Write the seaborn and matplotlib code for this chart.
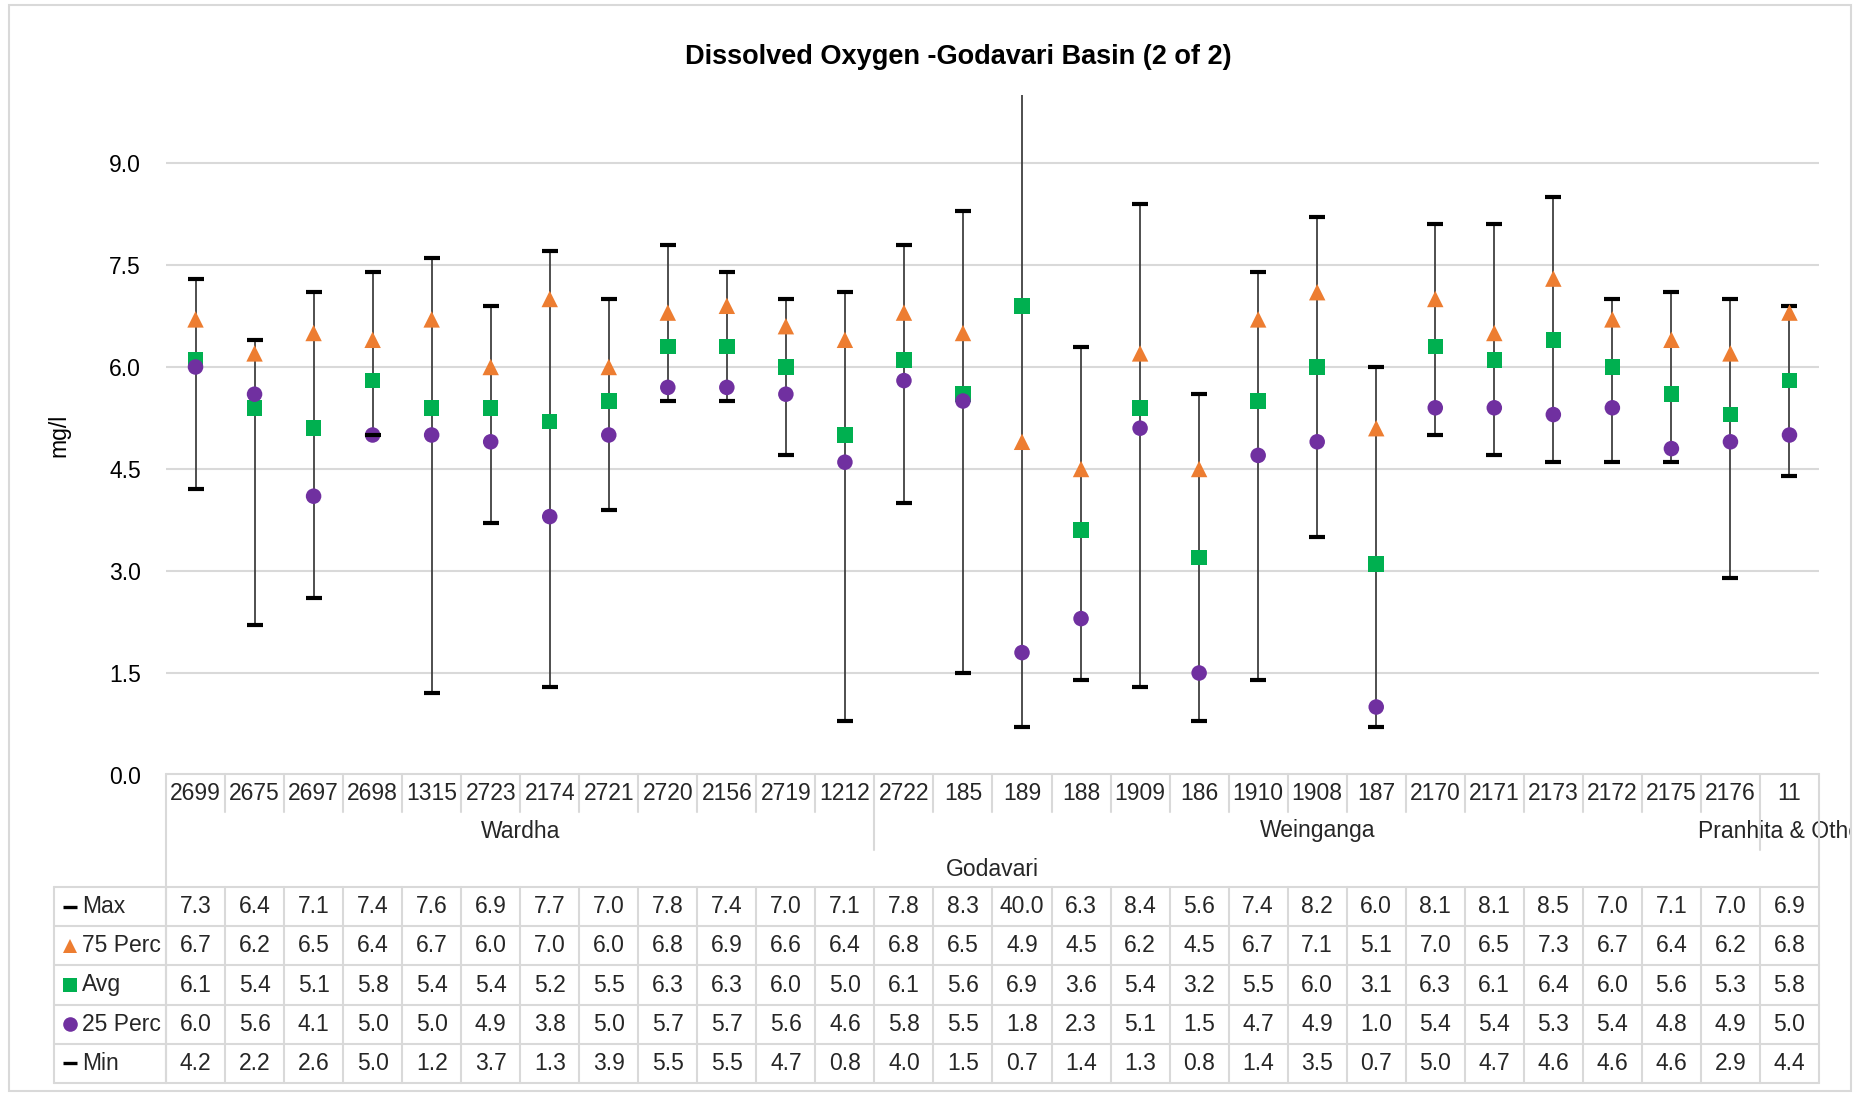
import numpy as np
import pandas as pd
import matplotlib
matplotlib.use("Agg")
import matplotlib.pyplot as plt
import matplotlib.transforms as mtransforms
from matplotlib.lines import Line2D
from matplotlib.patches import Rectangle
import seaborn as sns

stations = ["2699", "2675", "2697", "2698", "1315", "2723", "2174", "2721", "2720",
            "2156", "2719", "1212", "2722", "185", "189", "188", "1909", "186",
            "1910", "1908", "187", "2170", "2171", "2173", "2172", "2175", "2176", "11"]
sub_basins = ["Wardha"] * 12 + ["Weinganga"] * 15 + ["Pranhita & Others"]
basin = "Godavari"

max_vals = [7.3, 6.4, 7.1, 7.4, 7.6, 6.9, 7.7, 7.0, 7.8, 7.4, 7.0, 7.1,
            7.8, 8.3, 40.0, 6.3, 8.4, 5.6, 7.4, 8.2, 6.0, 8.1, 8.1, 8.5, 7.0, 7.1, 7.0, 6.9]
perc75 = [6.7, 6.2, 6.5, 6.4, 6.7, 6.0, 7.0, 6.0, 6.8, 6.9, 6.6, 6.4,
          6.8, 6.5, 4.9, 4.5, 6.2, 4.5, 6.7, 7.1, 5.1, 7.0, 6.5, 7.3, 6.7, 6.4, 6.2, 6.8]
avg_vals = [6.1, 5.4, 5.1, 5.8, 5.4, 5.4, 5.2, 5.5, 6.3, 6.3, 6.0, 5.0,
            6.1, 5.6, 6.9, 3.6, 5.4, 3.2, 5.5, 6.0, 3.1, 6.3, 6.1, 6.4, 6.0, 5.6, 5.3, 5.8]
perc25 = [6.0, 5.6, 4.1, 5.0, 5.0, 4.9, 3.8, 5.0, 5.7, 5.7, 5.6, 4.6,
          5.8, 5.5, 1.8, 2.3, 5.1, 1.5, 4.7, 4.9, 1.0, 5.4, 5.4, 5.3, 5.4, 4.8, 4.9, 5.0]
min_vals = [4.2, 2.2, 2.6, 5.0, 1.2, 3.7, 1.3, 3.9, 5.5, 5.5, 4.7, 0.8,
            4.0, 1.5, 0.7, 1.4, 1.3, 0.8, 1.4, 3.5, 0.7, 5.0, 4.7, 4.6, 4.6, 4.6, 2.9, 4.4]

series = ["Max", "75 Perc", "Avg", "25 Perc", "Min"]
markers = {"Max": "_", "75 Perc": "^", "Avg": "s", "25 Perc": "o", "Min": "_"}
colors = {"Max": "black", "75 Perc": "#ED7D31", "Avg": "#00B050",
          "25 Perc": "#7030A0", "Min": "black"}

df = pd.DataFrame({"Station": stations, "x": np.arange(len(stations)),
                   "Max": max_vals, "75 Perc": perc75, "Avg": avg_vals,
                   "25 Perc": perc25, "Min": min_vals})
n = len(df)

# ---- figure setup ----
sns.set_theme(style="white")
plt.rcParams["font.family"] = ["Liberation Sans Narrow", "Liberation Sans", "DejaVu Sans"]

W, H = 1865, 1093
FS = 16.5
GRID = "#D9D9D9"


def fx(px):
    return px / W


def fy(py):
    return 1 - py / H


fig = plt.figure(figsize=(W / 100, H / 100), dpi=100)
ax = fig.add_axes([fx(166), fy(775), (1819 - 166) / W, (775 - 95) / H])

# high-low lines
ax.vlines(df["x"], df["Min"], df["Max"], color="#404040", lw=1.3, zorder=2)

for i, s in enumerate(series):
    if markers[s] == "_":
        sns.scatterplot(data=df, x="x", y=s, marker="_", color=colors[s], s=135,
                        linewidth=3.0, ax=ax, zorder=3 + i, legend=False)
    else:
        sns.scatterplot(data=df, x="x", y=s, marker=markers[s], color=colors[s],
                        s=125 if s != "75 Perc" else 140, edgecolor="none",
                        linewidth=0, ax=ax, zorder=3 + i, legend=False)

ax.set_xlim(-0.5, n - 0.5)
ax.set_ylim(0, 10)
ax.set_yticks(np.arange(0, 9.1, 1.5))
ax.set_yticklabels([f"{t:.1f}" for t in np.arange(0, 9.1, 1.5)])
ax.set_xticks([])
ax.set_xlabel("")
ax.grid(axis="y", color=GRID, lw=1.5)
ax.set_axisbelow(True)
for sp in ax.spines.values():
    sp.set_visible(False)
ax.tick_params(axis="y", length=0, pad=18, labelsize=FS, labelcolor="black")
ax.set_ylabel("mg/l", fontsize=FS, color="black")
ax.yaxis.set_label_coords(-0.058, 0.5)

fig.text(fx(958), fy(57), "Dissolved Oxygen -Godavari Basin (2 of 2)",
         ha="center", va="center", fontsize=19.5, fontweight="bold", color="black")

# ---- category axis (multi-level) ----
trans = mtransforms.blended_transform_factory(ax.transData, fig.transFigure)
cw = (1819 - 166) / n
x_left_tab = -0.5 - (166 - 54) / cw


def hline(x0, x1, ypx):
    fig.add_artist(Line2D([x0, x1], [fy(ypx), fy(ypx)], transform=trans, color=GRID, lw=1.5))


def vline(x, y0, y1):
    fig.add_artist(Line2D([x, x], [fy(y0), fy(y1)], transform=trans, color=GRID, lw=1.5))


hline(-0.5, n - 0.5, 774)
vline(-0.5, 774, 1083)
vline(n - 0.5, 774, 1083)
for k in range(1, n):
    bottom = 850 if sub_basins[k] != sub_basins[k - 1] else 812
    vline(k - 0.5, 774, bottom)

for i, st in enumerate(stations):
    ax.text(i, fy(793), st, transform=trans, ha="center", va="center", fontsize=FS)

groups = []
for i, sb in enumerate(sub_basins):
    if groups and groups[-1][0] == sb:
        groups[-1][2] = i
    else:
        groups.append([sb, i, i])
clip = mtransforms.TransformedBbox(mtransforms.Bbox([[0, 0], [fx(1851), 1]]), fig.transFigure)
for sb, a, b in groups:
    t = ax.text((a + b) / 2, fy(831), sb, transform=trans, ha="center", va="center", fontsize=FS)
    t.set_clip_box(clip)
    t.set_clip_on(True)
ax.text((n - 1) / 2, fy(869), basin, transform=trans, ha="center", va="center", fontsize=FS)

# ---- data table ----
row_edges = np.linspace(887, 1083, len(series) + 1)
for ye in row_edges:
    hline(x_left_tab, n - 0.5, ye)
vline(x_left_tab, 887, 1083)
for k in range(n):
    vline(k - 0.5, 887, 1083)

for r, s in enumerate(series):
    yc = (row_edges[r] + row_edges[r + 1]) / 2
    if markers[s] == "_":
        sym = Line2D([fx(69.5)], [fy(yc)], marker="_", ms=10.5, mew=2.4,
                     color=colors[s], transform=fig.transFigure)
    else:
        sym = Line2D([fx(69.5)], [fy(yc)], marker=markers[s], ms=10.5 if markers[s] != "s" else 9.5,
                     mew=0, color=colors[s], transform=fig.transFigure)
    fig.add_artist(sym)
    fig.text(fx(82), fy(yc), s, ha="left", va="center", fontsize=FS)
    for i, v in enumerate(df[s]):
        ax.text(i, fy(yc), f"{v:.1f}", transform=trans, ha="center", va="center", fontsize=FS)

# chart border
fig.add_artist(Rectangle((fx(9), fy(1091)), fx(1851) - fx(9), fy(5) - fy(1091),
                         transform=fig.transFigure, fill=False, ec=GRID, lw=1.5))

fig.savefig("out.png", dpi=100)
